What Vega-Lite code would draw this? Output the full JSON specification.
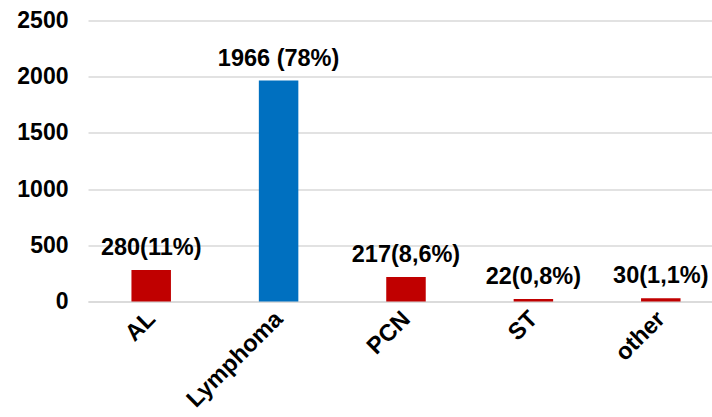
{
  "$schema": "https://vega.github.io/schema/vega-lite/v6.json",
  "autosize": {"type": "none"},
  "padding": {"left": 88, "top": 20.5, "right": 0, "bottom": 115.5},
  "width": 624,
  "height": 281,
  "background": "white",
  "config": {
    "view": {"stroke": null},
    "font": "Liberation Sans"
  },
  "data": {
    "values": [
      {"category": "AL", "count": 280, "label": "280(11%)", "group": "other"},
      {"category": "Lymphoma", "count": 1966, "label": "1966 (78%)", "group": "main"},
      {"category": "PCN", "count": 217, "label": "217(8,6%)", "group": "other"},
      {"category": "ST", "count": 22, "label": "22(0,8%)", "group": "other"},
      {"category": "other", "count": 30, "label": "30(1,1%)", "group": "other"}
    ]
  },
  "encoding": {
    "x": {
      "field": "category",
      "type": "nominal",
      "sort": null,
      "title": null,
      "scale": {"paddingInner": 0.69, "paddingOuter": 0.294, "align": 0.58},
      "axis": {
        "labelAngle": -45,
        "labelFont": "Liberation Sans",
        "labelFontWeight": "bold",
        "labelFontSize": 23.5,
        "labelColor": "black",
        "labelPadding": 5,
        "labelOffset": -8,
        "ticks": false,
        "domainColor": "#d9d9d9",
        "domainWidth": 1.5
      }
    },
    "y": {
      "field": "count",
      "type": "quantitative",
      "title": null,
      "scale": {"domain": [0, 2500], "nice": false},
      "axis": {
        "values": [0, 500, 1000, 1500, 2000, 2500],
        "format": "d",
        "labelFont": "Liberation Sans",
        "labelFontWeight": "bold",
        "labelFontSize": 23,
        "labelColor": "black",
        "labelPadding": 20,
        "ticks": false,
        "domain": false,
        "gridColor": "#d9d9d9",
        "gridWidth": 1.5
      }
    }
  },
  "layer": [
    {
      "mark": {"type": "bar"},
      "encoding": {
        "color": {
          "field": "group",
          "type": "nominal",
          "scale": {"domain": ["main", "other"], "range": ["#0070C0", "#C00000"]},
          "legend": null
        }
      }
    },
    {
      "mark": {"type": "text", "dy": -15, "baseline": "alphabetic", "font": "Liberation Sans", "fontWeight": "bold", "fontSize": 23.5, "color": "black"},
      "encoding": {
        "text": {"field": "label"}
      }
    }
  ]
}
